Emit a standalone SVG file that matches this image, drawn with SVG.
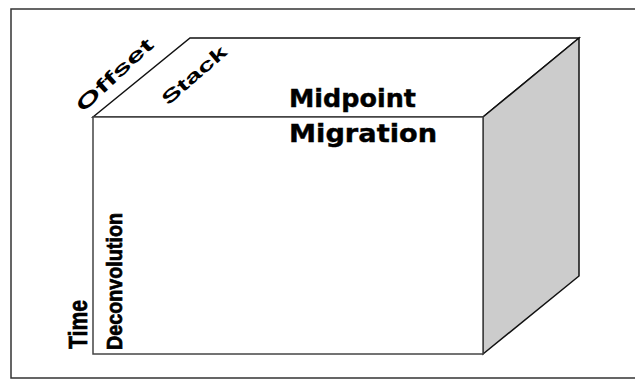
<svg xmlns="http://www.w3.org/2000/svg" width="635" height="382" viewBox="0 0 635 382">
<style>
.edge{stroke:#111;stroke-width:1.5;stroke-linejoin:miter}
.top{fill:#fff}
.side{fill:#cccccc}
.face{fill:#fff;stroke:#444;stroke-width:1.5}
.lbl{font-family:"Liberation Sans",Arial,sans-serif;font-weight:bold;fill:#000}
.big{font-family:"DejaVu Sans",Verdana,sans-serif;font-weight:bold;font-size:24px;fill:#000;stroke:#000;stroke-width:0.4}
.nar{font-family:"Liberation Sans",Arial,sans-serif;font-weight:bold;fill:#000;stroke:#000;stroke-width:0.7}
</style>
<rect x="0" y="0" width="635" height="382" fill="#fff"/>
<g id="frame">
<path d="M640 9 H11 V378 H640" fill="none" stroke="#333" stroke-width="1.5"/>
</g>
<g id="cube">
<polygon points="93,117 190,38 579,38 483,117" class="edge top"/>
<polygon points="483,117 579,38 579,276 483,354" class="edge side"/>
<rect x="93" y="117" width="390" height="237" class="face"/>
</g>
<g id="labels">
<text class="lbl" font-size="19" transform="translate(83,113) rotate(-43)" textLength="98" lengthAdjust="spacingAndGlyphs">Offset</text>
<text class="lbl" font-size="18" transform="translate(168,106) rotate(-41)" textLength="80" lengthAdjust="spacingAndGlyphs">Stack</text>
<text class="big" x="289" y="107" textLength="127" lengthAdjust="spacingAndGlyphs">Midpoint</text>
<text class="big" font-size="25" x="289" y="142" textLength="148" lengthAdjust="spacingAndGlyphs">Migration</text>
<text class="nar" font-size="26" transform="translate(87,349) rotate(-90)" textLength="49" lengthAdjust="spacingAndGlyphs">Time</text>
<text class="nar" font-size="22" transform="translate(122,350) rotate(-90)" textLength="137" lengthAdjust="spacingAndGlyphs">Deconvolution</text>
</g>
</svg>
